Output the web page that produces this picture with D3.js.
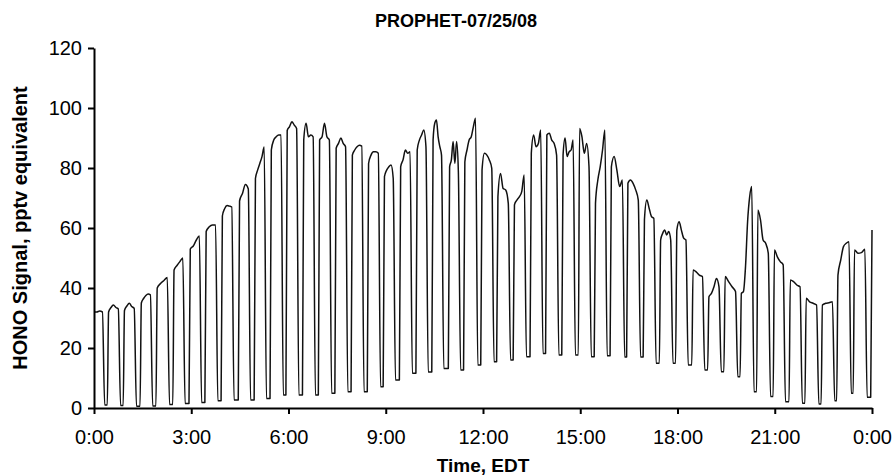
<!DOCTYPE html>
<html>
<head>
<meta charset="utf-8">
<script src="https://cdn.jsdelivr.net/npm/d3@7"></script>
<style>
  html, body { margin: 0; padding: 0; background: #fff; }
  svg { display: block; font-family: "Liberation Sans", Arial, Helvetica, sans-serif; }
</style>
</head>
<body>
<svg id="chart" width="895" height="475"></svg>
<script>
// HONO signal, PROPHET site, 25 July 2008.
// The instrument alternates between ambient sampling (plateau) and zeroing (trough),
// roughly every 30 minutes. Times are hours EDT; values are pptv equivalent.

// Start of each ambient (plateau) period; the first period is already running at 0:00.
const riseHours = [null, 0.41, 0.90, 1.42, 1.91, 2.43, 2.93, 3.42, 3.92, 4.45,
  4.94, 5.43, 5.92, 6.43, 6.92, 7.43, 7.93, 8.43, 8.92, 9.42,
  9.93, 10.42, 10.93, 11.40, 11.93, 12.42, 12.93, 13.45, 13.93, 14.43,
  14.94, 15.43, 15.92, 16.43, 16.94, 17.44, 17.94, 18.44, 18.93, 19.43,
  19.93, 20.44, 20.95, 21.44, 21.93, 22.43, 22.91, 23.42, 23.96];

// End of each ambient period (switch to zero); the last entry is the end of the record.
const fallHours = [0.26, 0.75, 1.24, 1.74, 2.26, 2.74, 3.25, 3.75, 4.25, 4.76,
  5.25, 5.77, 6.25, 6.76, 7.26, 7.76, 8.26, 8.77, 9.23, 9.75,
  10.24, 10.72, 11.24, 11.77, 12.27, 12.78, 13.27, 13.78, 14.27, 14.78,
  15.27, 15.76, 16.30, 16.79, 17.27, 17.79, 18.26, 18.77, 19.28, 19.79,
  20.29, 20.80, 21.26, 21.78, 22.29, 22.78, 23.29, 23.78, 24.0];

// Signal readings across each ambient period, in order.
const plateauValues = [
  [32, 32, 32.3, 32],
  [32, 33.5, 34.3, 33.5, 33],
  [32.5, 34, 34.9, 33.8, 33.2],
  [35, 36.5, 37.5, 38, 37.7],
  [40, 41.5, 42.5, 43.5],
  [46, 47.5, 48.8, 50],
  [53, 54, 56, 57.3],
  [58.8, 60.4, 61, 61],
  [64, 66.5, 67.5, 67.3, 67],
  [69, 71.5, 74.5, 73],
  [76.5, 79.3, 81.5, 83.8, 87],
  [86, 89.3, 90.4, 91, 91],
  [92.5, 93.8, 95.4, 94.3, 93.2],
  [89.3, 94.9, 90.4, 91, 90.4],
  [89.3, 90.4, 94.9, 90.4, 89.3],
  [86.6, 88.2, 90, 88.2, 87.1],
  [84.3, 86, 87.1, 87.6, 87.3],
  [81.5, 84.3, 85.4, 85.4, 84.9],
  [77.1, 79.3, 80.4, 81, 76.6],
  [80.4, 82.7, 86, 84.9, 85.4],
  [86, 89.3, 91, 92.7, 87.1],
  [89.3, 94.9, 96, 90.4, 87.1, 84.3],
  [80.4, 82.7, 88.8, 81.5, 88.8, 78.8],
  [82, 86, 89.3, 90.4, 93.8, 96.6],
  [79.3, 84.9, 84.3, 82.7, 79.9],
  [70.4, 78.2, 73.2, 72.7, 68.2],
  [67.7, 69.3, 70.4, 72.1, 77.7],
  [84.9, 91, 87.1, 88.2, 92.7],
  [91, 91.6, 89.3, 88.2, 84.3],
  [84.3, 90, 83.8, 85.4, 86, 89.3],
  [93.2, 90.4, 84.9, 88.2, 80.4],
  [68.2, 76, 80.4, 86, 92.7],
  [80.4, 83.8, 79.3, 73.8, 76],
  [74.9, 76, 74.9, 72.7, 69.3],
  [62.7, 69.3, 66.6, 63.8, 63.2],
  [56, 58.2, 59.3, 57.7, 58.8, 56],
  [59.3, 62.1, 59.3, 56.6, 56],
  [46, 45.4, 44.3, 43.8],
  [37.1, 38.2, 40.4, 43.2, 40.4],
  [43.8, 42.1, 40.4, 38.8],
  [38.2, 38.8, 47.1, 62.1, 70.4, 73.8],
  [66, 62.7, 56, 54.9, 51.6],
  [52.7, 50.4, 48.8, 47.7],
  [42.7, 42.1, 41, 40.4],
  [36.6, 35.4, 34.9, 34.3],
  [34.3, 34.9, 35.1, 35.4],
  [44.3, 49.3, 53.8, 54.9, 55.4],
  [52.7, 51.6, 51.8, 52.9],
  [59.3]
];

// Zero (background) level reached after each ambient period.
const troughValues = [1.0, 0.8, 0.6, 0.7, 1.2, 1.5, 1.8, 2.4, 2.7, 2.7,
  3.2, 4.3, 4.3, 4.3, 4.9, 5.4, 5.4, 7.1, 9.3, 11.6,
  12.0, 13.2, 12.7, 14.3, 15.4, 16.0, 17.1, 18.2, 17.7, 17.7,
  17.1, 17.4, 17.0, 17.0, 14.9, 14.9, 14.3, 12.7, 12.1, 10.4,
  5.4, 3.8, 2.1, 1.6, 1.3, 2.4, 4.9, 3.6];

const yTicks = [0, 20, 40, 60, 80, 100, 120];
const xTicks = [0, 3, 6, 9, 12, 15, 18, 21, 24];
const xTickLabels = ["0:00", "3:00", "6:00", "9:00", "12:00", "15:00", "18:00", "21:00", "0:00"];

// Switching times of the inlet valve (hours).
const RISE_TIME = 0.04;
const FALL_TIME = 0.07;

// Build the time series from the ambient / zero periods.
const series = [];
plateauValues.forEach((vals, i) => {
  const r = riseHours[i];
  const f = fallHours[i];
  let start;
  if (r === null) {
    start = 0;
  } else {
    series.push([r, troughValues[i - 1]]);
    start = r + RISE_TIME;
  }
  const n = vals.length;
  vals.forEach((v, k) => {
    const t = n === 1 ? f : start + (f - start) * k / (n - 1);
    series.push([t, v]);
  });
  if (i < troughValues.length) {
    series.push([f + FALL_TIME, troughValues[i]]);
  }
});

const svg = d3.select("#chart");
const x = d3.scaleLinear().domain([0, 24]).range([94, 872]);
const y = d3.scaleLinear().domain([0, 120]).range([408, 48]);

// Signal trace
const line = d3.line()
  .x(d => x(d[0]))
  .y(d => y(d[1]))
  .curve(d3.curveMonotoneX);

svg.append("path")
  .datum(series)
  .attr("fill", "none")
  .attr("stroke", "#111")
  .attr("stroke-width", 1.5)
  .attr("stroke-linejoin", "round")
  .attr("d", line);

// Axes
const yAxis = d3.axisLeft(y).tickValues(yTicks).tickSize(6).tickSizeOuter(0).tickPadding(6);
const xAxis = d3.axisBottom(x).tickValues(xTicks)
  .tickFormat((d, i) => xTickLabels[i]).tickSize(6).tickSizeOuter(0).tickPadding(16);

const gy = svg.append("g").attr("transform", `translate(${x(0)},0)`).call(yAxis);
const gx = svg.append("g").attr("transform", `translate(0,${y(0)})`).call(xAxis);

[gx, gy].forEach(g => {
  g.select(".domain").attr("stroke", "#000").attr("stroke-width", 2);
  g.selectAll(".tick line").attr("stroke", "#000").attr("stroke-width", 2);
  g.selectAll(".tick text")
    .attr("fill", "#000")
    .style("font-family", '"Liberation Sans", Arial, sans-serif')
    .style("font-size", "20px");
});

// Titles
svg.append("text")
  .attr("x", 456).attr("y", 27)
  .attr("text-anchor", "middle")
  .style("font-weight", "bold").style("font-size", "18px")
  .text("PROPHET-07/25/08");

svg.append("text")
  .attr("x", 483).attr("y", 472)
  .attr("text-anchor", "middle")
  .style("font-weight", "bold").style("font-size", "19px")
  .text("Time, EDT");

svg.append("text")
  .attr("transform", `translate(27,${(y(0) + y(120)) / 2}) rotate(-90)`)
  .attr("text-anchor", "middle")
  .style("font-weight", "bold").style("font-size", "20px")
  .text("HONO Signal, pptv equivalent");
</script>
</body>
</html>
